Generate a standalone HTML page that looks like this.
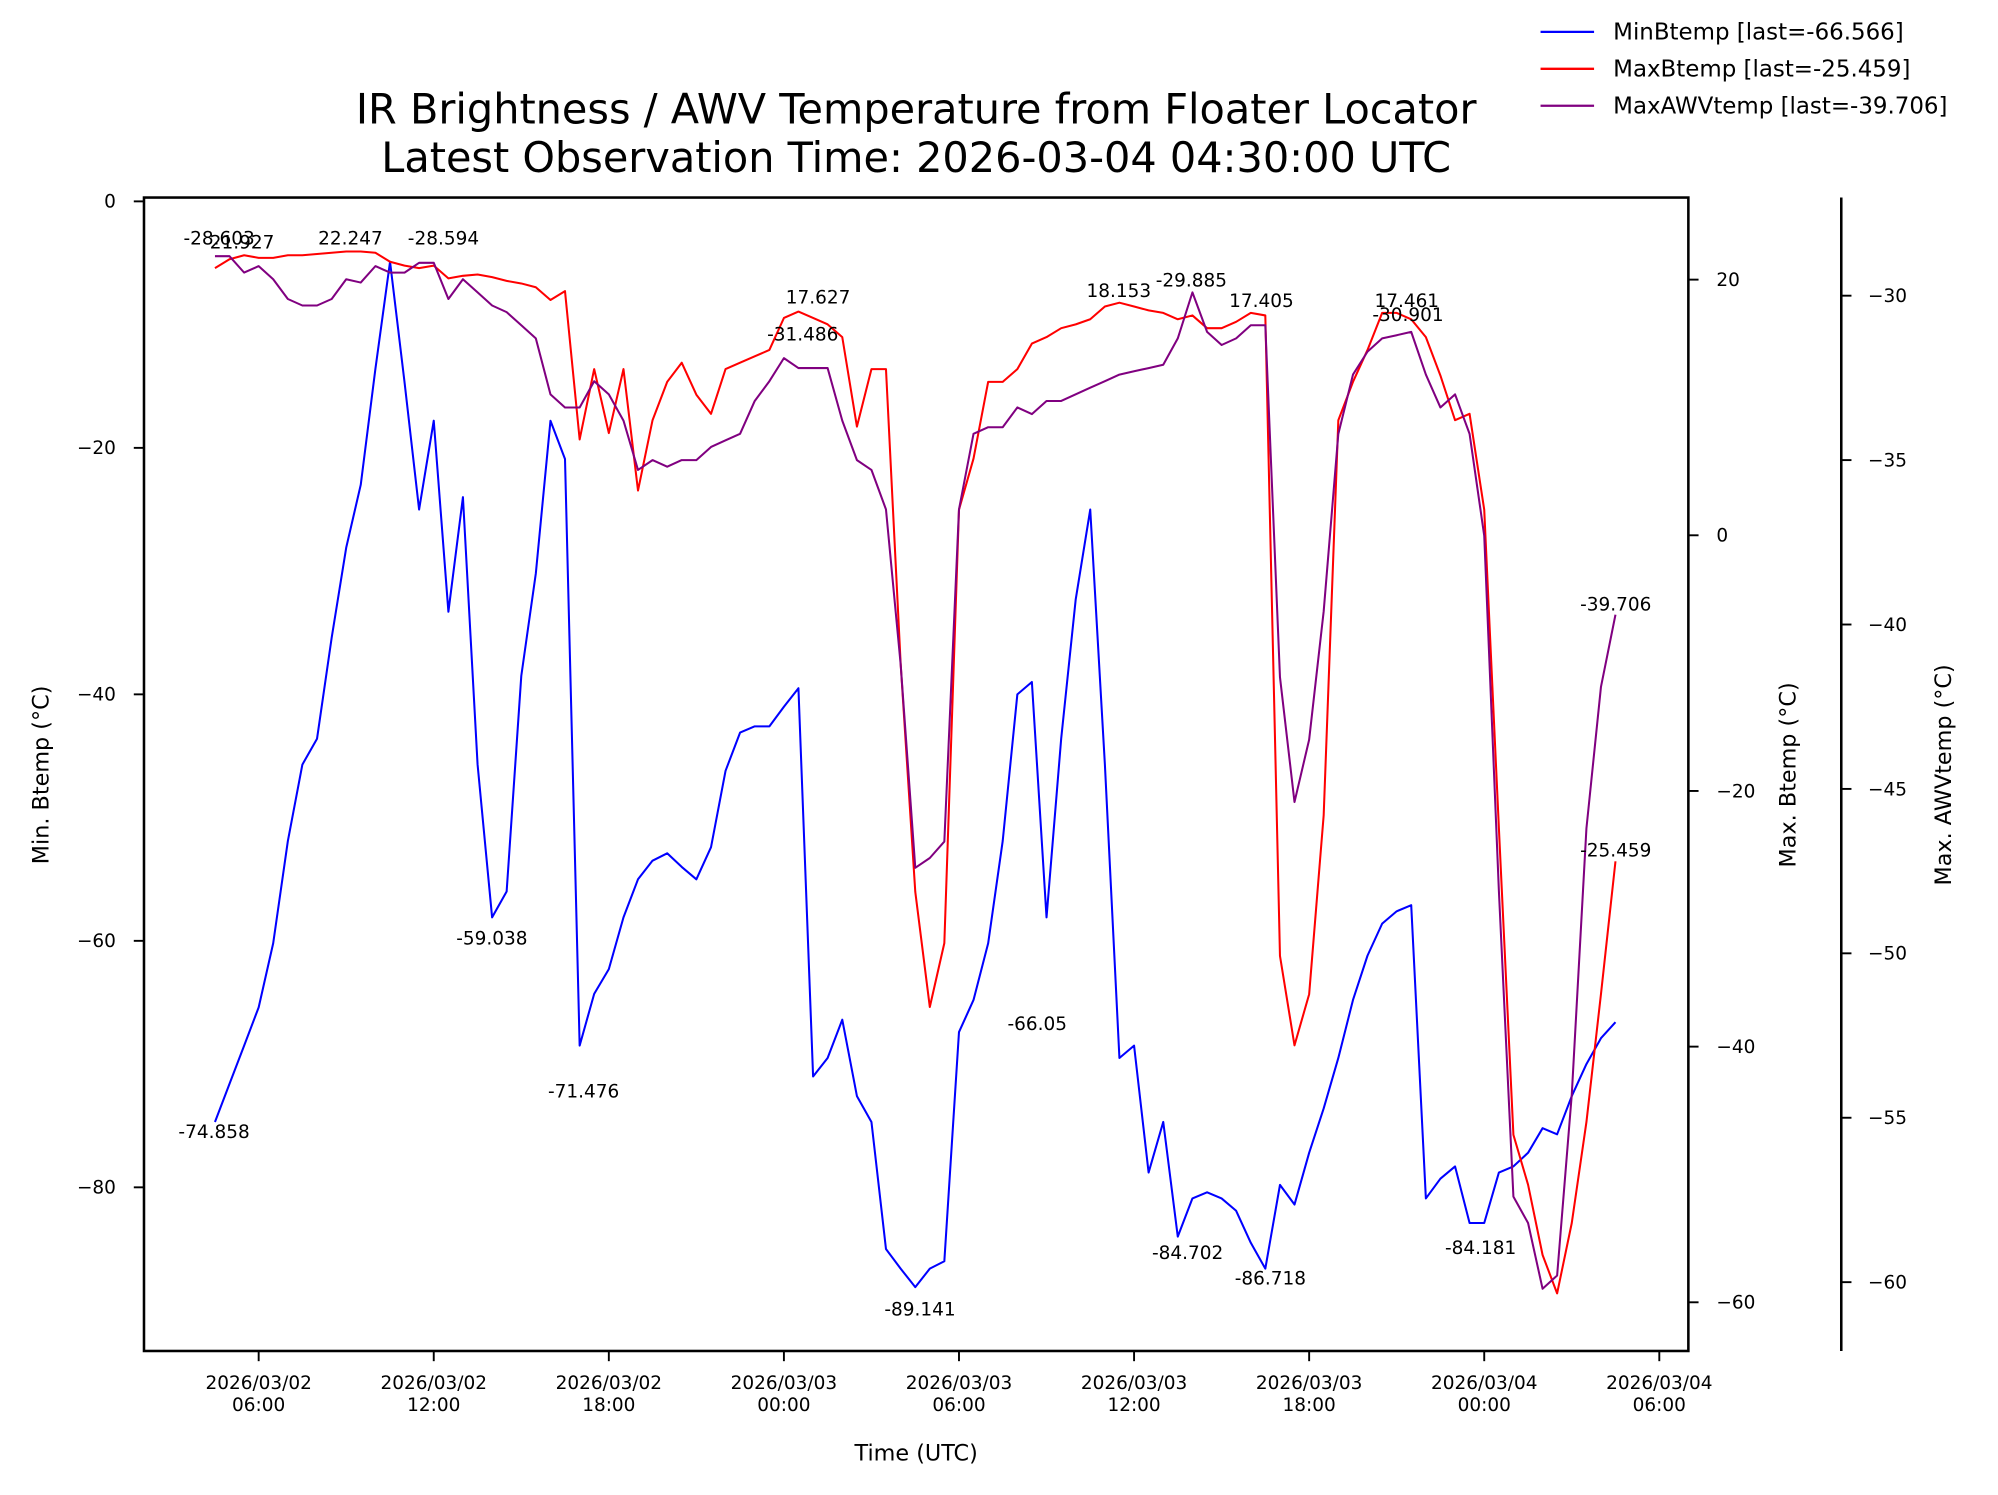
<!DOCTYPE html>
<html><head><meta charset="utf-8"><style>
html,body{margin:0;padding:0;background:#fff;}
svg{display:block;font-family:"DejaVu Sans","Liberation Sans",sans-serif;}
</style></head><body>
<svg id="chart" width="1998" height="1495" viewBox="0 0 1568 1173" preserveAspectRatio="none" xmlns="http://www.w3.org/2000/svg">
<rect width="1568" height="1173" fill="#fff"/>
<text x="719" y="97" font-size="32.5" text-anchor="middle">IR Brightness / AWV Temperature from Floater Locator</text>
<text x="719" y="135" font-size="32.5" text-anchor="middle">Latest Observation Time: 2026-03-04 04:30:00 UTC</text>
<g id="plot"></g>
<g>
<line x1="1209" y1="25" x2="1251" y2="25" stroke="#0000ff" stroke-width="1.8"/>
<text x="1266" y="31" font-size="18">MinBtemp [last=-66.566]</text>
<line x1="1209" y1="54" x2="1251" y2="54" stroke="#ff0000" stroke-width="1.8"/>
<text x="1266" y="60" font-size="18">MaxBtemp [last=-25.459]</text>
<line x1="1209" y1="83" x2="1251" y2="83" stroke="#800080" stroke-width="1.8"/>
<text x="1266" y="89" font-size="18">MaxAWVtemp [last=-39.706]</text>
</g>
<text x="719" y="1146" font-size="17.5" text-anchor="middle">Time (UTC)</text>
<text transform="translate(38,608) rotate(-90)" font-size="17.5" text-anchor="middle">Min. Btemp (°C)</text>
<text transform="translate(1409,608) rotate(-90)" font-size="17.5" text-anchor="middle">Max. Btemp (°C)</text>
<text transform="translate(1531,608) rotate(-90)" font-size="17.5" text-anchor="middle">Max. AWVtemp (°C)</text>
</svg>
<script>
// 30-minute samples starting 2026-03-02 04:30 UTC (hours offset)
const startHour = 4.5;
const minBtemp = [-74.7,-71.6,-68.5,-65.4,-60.2,-51.9,-45.7,-43.6,-35.4,-28.1,-23,-13.6,-4.9,-14.7,-25,-17.8,-33.3,-24,-45.7,-58.1,-56,-38.5,-30.2,-17.8,-20.9,-68.5,-64.3,-62.3,-58.1,-55,-53.5,-52.9,-54,-55,-52.4,-46.2,-43.1,-42.6,-42.6,-41,-39.5,-71,-69.5,-66.4,-72.6,-74.7,-85,-86.6,-88.1,-86.6,-86,-67.4,-64.8,-60.2,-51.9,-40,-39,-58.1,-43.6,-32.3,-25,-45.7,-69.5,-68.5,-78.8,-74.7,-84,-80.9,-80.4,-80.9,-81.9,-84.5,-86.6,-79.8,-81.4,-77.2,-73.6,-69.5,-64.8,-61.2,-58.6,-57.6,-57.1,-80.9,-79.3,-78.3,-82.9,-82.9,-78.8,-78.3,-77.2,-75.2,-75.7,-72.6,-70,-67.9,-66.6];
const maxBtemp = [20.9,21.6,21.9,21.7,21.7,21.9,21.9,22,22.1,22.2,22.2,22.1,21.4,21.1,20.9,21.1,20.1,20.3,20.4,20.2,19.9,19.7,19.4,18.4,19.1,7.5,13,8,13,3.5,9,12,13.5,11,9.5,13,13.5,14,14.5,17,17.5,17,16.5,15.5,8.5,13,13,-10,-27.9,-36.9,-31.9,2,6,12,12,13,15,15.5,16.2,16.5,16.9,17.9,18.2,17.9,17.6,17.4,16.9,17.2,16.2,16.2,16.7,17.4,17.2,-32.9,-39.9,-35.9,-21.9,9,12,14.5,17.4,17.4,16.9,15.5,12.5,9,9.5,2,-22.9,-46.9,-50.8,-56.3,-59.3,-53.8,-45.9,-35.9,-25.5];
const maxAWVtemp = [-28.8,-28.8,-29.3,-29.1,-29.5,-30.1,-30.3,-30.3,-30.1,-29.5,-29.6,-29.1,-29.3,-29.3,-29,-29,-30.1,-29.5,-29.9,-30.3,-30.5,-30.9,-31.3,-33,-33.4,-33.4,-32.6,-33,-33.8,-35.3,-35,-35.2,-35,-35,-34.6,-34.4,-34.2,-33.2,-32.6,-31.9,-32.2,-32.2,-32.2,-33.8,-35,-35.3,-36.5,-41.2,-47.4,-47.1,-46.6,-36.5,-34.2,-34,-34,-33.4,-33.6,-33.2,-33.2,-33,-32.8,-32.6,-32.4,-32.3,-32.2,-32.1,-31.3,-29.9,-31.1,-31.5,-31.3,-30.9,-30.9,-41.6,-45.4,-43.5,-39.6,-34.2,-32.4,-31.7,-31.3,-31.2,-31.1,-32.4,-33.4,-33,-34.2,-37.3,-48.1,-57.4,-58.2,-60.2,-59.8,-54.3,-46.2,-41.9,-39.7];
const xTickHours = [6,12,18,24,30,36,42,48,54];
const xTickLabels = [["2026/03/02","06:00"],["2026/03/02","12:00"],["2026/03/02","18:00"],["2026/03/03","00:00"],["2026/03/03","06:00"],["2026/03/03","12:00"],["2026/03/03","18:00"],["2026/03/04","00:00"],["2026/03/04","06:00"]];
const leftTicks = [0,-20,-40,-60,-80];
const rightTicks = [20,0,-20,-40,-60];
const awvTicks = [-30,-35,-40,-45,-50,-55,-60];
const annotations = [
 ["-28.603",172,192],["21.927",190,195],["22.247",275,192],["-28.594",348,192],
 ["-74.858",168,893],["-59.038",386,741],["-71.476",458,861],["17.627",642,238],
 ["-31.486",630,267],["-89.141",722,1032],["-66.05",814,808],["18.153",878,233],
 ["-29.885",935,225],["17.405",990,241],["-84.702",932,988],["-86.718",997,1008],
 ["17.461",1104,241],["-30.901",1105,252],["-84.181",1162,984],["-39.706",1268,479],["-25.459",1268,672]
];

const L=113,R=1325,T=155,B=1060;
const xs = h => 203 + (h-6)*22.9;
const yL = v => 158 - v*9.67;
const yR = v => 420 - v*10.03;
const yA = v => 232 - (v+30)*25.8;
const NS="http://www.w3.org/2000/svg";
const plot=document.getElementById('plot');
function mk(tag,attrs,parent){const e=document.createElementNS(NS,tag);for(const k in attrs)e.setAttribute(k,attrs[k]);(parent||plot).appendChild(e);return e;}

function series(vals,yf,color,name){
  const d=vals.map((v,i)=>(i?'L':'M')+xs(startHour+i*0.5).toFixed(1)+' '+yf(v).toFixed(1)).join(' ');
  const p=mk('path',{d:d,fill:'none',stroke:color,'stroke-width':1.6,'stroke-linejoin':'round'});
  
  
}
series(minBtemp,yL,'#0000ff','minbtemp-line');
series(maxBtemp,yR,'#ff0000','maxbtemp-line');
series(maxAWVtemp,yA,'#800080','maxawvtemp-line');

annotations.forEach(a=>{
  const t=mk('text',{x:a[1],y:a[2],'font-size':14.5,'text-anchor':'middle'});
  t.textContent=a[0];
  
  
});

const frame=mk('rect',{x:L,y:T,width:R-L,height:B-T,fill:'none',stroke:'#000','stroke-width':2});


const sp=mk('line',{x1:1445,y1:T,x2:1445,y2:B,stroke:'#000','stroke-width':2});



xTickHours.forEach((h,i)=>{
  const x=xs(h);
  const tk=mk('line',{x1:x,y1:B,x2:x,y2:B+8,stroke:'#000','stroke-width':1.5});
  
  
  const t=mk('text',{x:x,y:B+30,'font-size':14.5,'text-anchor':'middle'});
  
  
  const s1=mk('tspan',{x:x},t);s1.textContent=xTickLabels[i][0];
  const s2=mk('tspan',{x:x,dy:17},t);s2.textContent=xTickLabels[i][1];
});
leftTicks.forEach(v=>{
  const y=yL(v);
  const tk=mk('line',{x1:L-8,y1:y,x2:L,y2:y,stroke:'#000','stroke-width':1.5});
  
  
  const t=mk('text',{x:L-22,y:y+5,'font-size':14.5,'text-anchor':'end'});
  t.textContent=v===0?'0':'\u2212'+Math.abs(v);
  
  
});
rightTicks.forEach(v=>{
  const y=yR(v);
  const tk=mk('line',{x1:R,y1:y,x2:R+8,y2:y,stroke:'#000','stroke-width':1.5});
  
  
  const t=mk('text',{x:R+22,y:y+5,'font-size':14.5,'text-anchor':'start'});
  t.textContent=v<0?'\u2212'+Math.abs(v):String(v);
  
  
});
awvTicks.forEach(v=>{
  const y=yA(v);
  const tk=mk('line',{x1:1445,y1:y,x2:1453,y2:y,stroke:'#000','stroke-width':1.5});
  
  
  const t=mk('text',{x:1466,y:y+5,'font-size':14.5,'text-anchor':'start'});
  t.textContent='\u2212'+Math.abs(v);
  
  
});
</script>
</body></html>
